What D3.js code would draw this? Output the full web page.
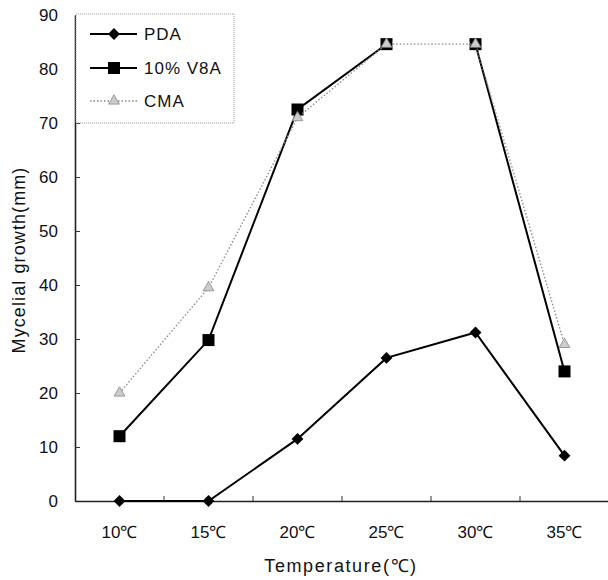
<!DOCTYPE html>
<html><head><meta charset="utf-8">
<script src="https://cdn.jsdelivr.net/npm/d3@7"></script>
<style>body{margin:0;background:#fff}svg{display:block}text{font-family:"Liberation Sans",Arial,sans-serif}</style>
</head><body><svg id="c" width="608" height="580"></svg>
<script>
const categories = ["10℃","15℃","20℃","25℃","30℃","35℃"];
const pda = [0, 0, 11.5, 26.5, 31.2, 8.4];
const v8a = [12, 29.8, 72.5, 84.6, 84.6, 24];
const cma = [20, 39.5, 71, 84.6, 84.6, 29];
const yTicks = [0,10,20,30,40,50,60,70,80,90];
const seriesNames = ["PDA","10% V8A","CMA"];

const svg = d3.select("#c");
const mLeft = 75, mRight = 609, mTop = 15, mBottom = 501;
const x = d3.scaleBand().domain(categories).range([mLeft, mRight]);
const y = d3.scaleLinear().domain([0, 90]).range([mBottom, mTop]);

// y axis
const ya = svg.append("g").attr("transform", `translate(${mLeft},0)`)
  .call(d3.axisLeft(y).tickValues(yTicks).tickSizeInner(-5).tickSizeOuter(0).tickPadding(17));
ya.select(".domain").attr("stroke","#222").attr("stroke-width",1.6);
ya.selectAll(".tick line").attr("stroke","#333");
ya.selectAll("text").attr("font-size",17).attr("fill","#111");

// x axis
const xa = svg.append("g").attr("transform", `translate(0,${mBottom})`)
  .call(d3.axisBottom(x).tickSize(0).tickPadding(25));
xa.select(".domain").attr("stroke","#222").attr("stroke-width",1.6);
xa.selectAll("text").attr("font-size",17).attr("fill","#111");
// ticks between categories
const bounds = categories.slice(1).map(c => x(c));
svg.append("g").selectAll("line").data(bounds).join("line")
  .attr("x1", d=>d).attr("x2", d=>d).attr("y1", mBottom).attr("y2", mBottom-5)
  .attr("stroke","#333");

// titles
svg.append("text").attr("transform",`translate(25,${(mTop+mBottom)/2+2}) rotate(-90)`)
  .attr("text-anchor","middle").attr("font-size",18).attr("letter-spacing",1.1).attr("fill","#111").text("Mycelial growth(mm)");
svg.append("text").attr("x",341).attr("y",572).attr("text-anchor","middle")
  .attr("font-size",18).attr("letter-spacing",1.6).attr("fill","#111").text("Temperature(℃)");

const cx = (d,i) => x(categories[i]) + x.bandwidth()/2;
const line = d3.line().x(cx).y(d => y(d));

// V8A
svg.append("path").datum(v8a).attr("d", line).attr("fill","none")
  .attr("stroke","#000").attr("stroke-width",2);
svg.append("g").selectAll("rect").data(v8a).join("rect")
  .attr("x",(d,i)=>cx(d,i)-6).attr("y",d=>y(d)-6).attr("width",12).attr("height",12).attr("fill","#000");

// CMA (drawn over V8A; where they coincide the dotted line covers the solid one)
svg.append("line")
  .attr("x1", cx(cma[3],3)+6).attr("x2", cx(cma[4],4)-6)
  .attr("y1", y(cma[3])).attr("y2", y(cma[4]))
  .attr("stroke","#fff").attr("stroke-width",4);
svg.append("path").datum(cma).attr("d", line).attr("fill","none")
  .attr("stroke","#888").attr("stroke-width",1.3).attr("stroke-dasharray","1.5,2");
const tri = d3.symbol().type(d3.symbolTriangle).size(50);
svg.append("g").selectAll("path").data(cma).join("path")
  .attr("transform",(d,i)=>`translate(${cx(d,i)},${y(d)})`).attr("d", tri())
  .attr("fill","#ccc").attr("stroke","#888").attr("stroke-width",0.8);

// PDA
svg.append("path").datum(pda).attr("d", line).attr("fill","none")
  .attr("stroke","#000").attr("stroke-width",2);
const dia = d3.symbol().type(d3.symbolDiamond2).size(90);
svg.append("g").selectAll("path").data(pda).join("path")
  .attr("transform",(d,i)=>`translate(${cx(d,i)},${y(d)})`).attr("d", dia()).attr("fill","#000");

// legend
const lg = svg.append("g");
lg.append("rect").attr("x",76).attr("y",14).attr("width",158).attr("height",109)
  .attr("fill","#fff").attr("stroke","#999").attr("stroke-dasharray","1,1");
const ly = [34, 68, 101];
seriesNames.forEach((n,i) => {
  const yy = ly[i];
  lg.append("line").attr("x1",90).attr("x2",137).attr("y1",yy).attr("y2",yy)
    .attr("stroke", i==2?"#888":"#000").attr("stroke-width", i==2?1.3:2)
    .attr("stroke-dasharray", i==2?"1.5,2":null);
  if(i==0) lg.append("path").attr("transform",`translate(114,${yy})`).attr("d",dia()).attr("fill","#000");
  if(i==1) lg.append("rect").attr("x",108).attr("y",yy-6).attr("width",12).attr("height",12).attr("fill","#000");
  if(i==2) lg.append("path").attr("transform",`translate(114,${yy})`).attr("d",tri()).attr("fill","#ccc").attr("stroke","#888").attr("stroke-width",0.8);
  lg.append("text").attr("x",144).attr("y",yy+6).attr("font-size",17).attr("letter-spacing",1).attr("fill","#111").text(n);
});
</script></body></html>
